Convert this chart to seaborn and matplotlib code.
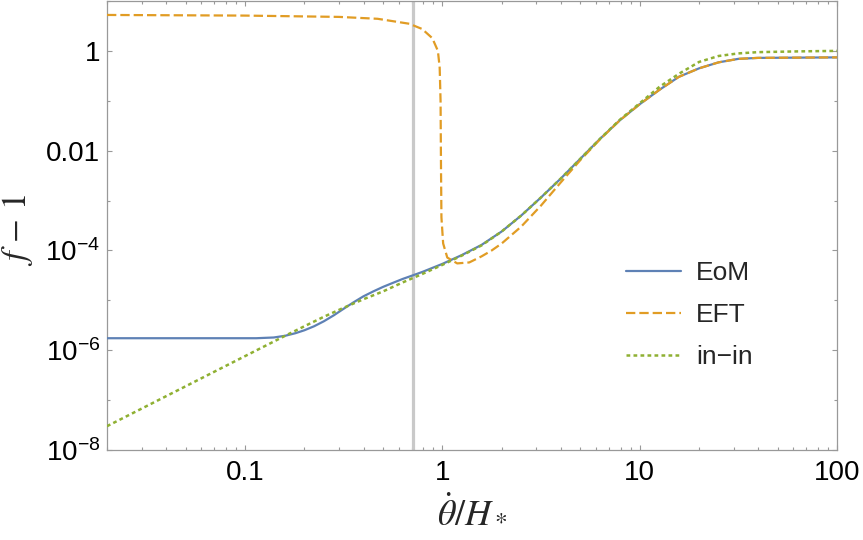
import numpy as np
import pandas as pd
import seaborn as sns
import matplotlib.pyplot as plt
from matplotlib.ticker import FixedLocator, FixedFormatter, LogLocator, NullFormatter

# values (x = theta_dot / H_*, y = f - 1)
eom_x = [0.02, 0.06, 0.114, 0.14, 0.16, 0.18, 0.2, 0.224, 0.251, 0.282, 0.316, 0.355,
         0.398, 0.447, 0.501, 0.562, 0.631, 0.708, 0.794, 0.891, 1.0, 1.26, 1.58, 2.0,
         2.51, 3.16, 3.98, 5.01, 6.31, 7.94, 10, 12.6, 15.8, 20, 25.1, 31.6, 39.8, 100]
eom_y = [1.74e-6, 1.74e-6, 1.74e-6, 1.80e-6, 1.95e-6, 2.19e-6, 2.51e-6, 3.02e-6,
         3.80e-6, 5.01e-6, 6.76e-6, 9.12e-6, 1.20e-5, 1.51e-5, 1.86e-5, 2.24e-5,
         2.69e-5, 3.16e-5, 3.72e-5, 4.47e-5, 5.37e-5, 8.13e-5, 1.29e-4, 2.40e-4,
         5.0e-4, 1.15e-3, 2.75e-3, 6.9e-3, 0.0174, 0.0407, 0.0851, 0.166, 0.302,
         0.447, 0.589, 0.692, 0.724, 0.741]

eft_x = [0.02, 0.1, 0.3, 0.47, 0.68, 0.79, 0.89, 0.95, 0.97, 0.98, 0.985, 0.99, 1.01,
         1.06, 1.19, 1.37, 1.58, 1.78, 2.0, 2.51, 3.16, 3.98, 5.01, 6.31, 7.94, 10,
         12.6, 15.8, 20, 25.1, 31.6, 39.8, 100]
eft_y = [5.25, 5.1, 4.8, 4.4, 3.5, 2.75, 1.8, 1.0, 0.46, 0.1, 4.6e-3, 4.6e-4, 1.38e-4,
         7.2e-5, 5.5e-5, 5.75e-5, 7.6e-5, 1.0e-4, 1.38e-4, 3.0e-4, 7.9e-4, 2.3e-3,
         6.5e-3, 0.0170, 0.0407, 0.0851, 0.166, 0.302, 0.447, 0.589, 0.692, 0.724,
         0.741]

inin_x = [0.02, 0.1, 0.16, 0.2, 0.251, 0.316, 0.398, 0.501, 0.631, 0.794, 1.0, 1.26,
          1.58, 2.0, 2.51, 3.16, 3.98, 5.01, 6.31, 7.94, 10, 12.6, 15.8, 20, 25.1,
          31.6, 39.8, 63, 100]
inin_y = [3.0e-8, 7.6e-7, 1.95e-6, 3.02e-6, 4.68e-6, 7.08e-6, 1.05e-5, 1.51e-5,
          2.29e-5, 3.39e-5, 5.13e-5, 7.94e-5, 1.26e-4, 2.40e-4, 5.0e-4, 1.15e-3,
          2.75e-3, 6.9e-3, 0.0174, 0.0417, 0.089, 0.19, 0.347, 0.60, 0.79, 0.89,
          0.944, 0.977, 1.0]

x_marker = 0.707

xticks = [0.1, 1, 10, 100]
xtick_labels = ['0.1', '1', '10', '100']
yticks = [1e-8, 1e-6, 1e-4, 1e-2, 1]
ytick_labels = [r'$\mathregular{10^{-8}}$', r'$\mathregular{10^{-6}}$',
                r'$\mathregular{10^{-4}}$', '0.01', '1']

sns.set_style('ticks')
plt.rcParams['font.family'] = ['Liberation Sans', 'DejaVu Sans']
plt.rcParams['mathtext.fontset'] = 'custom'
plt.rcParams['mathtext.rm'] = 'Liberation Sans'
plt.rcParams['mathtext.it'] = 'Liberation Sans:italic'

fig = plt.figure(figsize=(8.63, 5.40), dpi=100)
ax = fig.add_axes([107/863, 90/540, 730/863, 449/540])
ax.set_xscale('log')
ax.set_yscale('log')

ax.axvline(x_marker, color='#c9c9c9', lw=2.3, zorder=1)

sns.lineplot(x=eom_x, y=eom_y, ax=ax, color='#5e81b5', lw=1.6, label='EoM',
             sort=False, estimator=None, zorder=3)
sns.lineplot(x=eft_x, y=eft_y, ax=ax, color='#e19c24', lw=1.6, label='EFT',
             sort=False, estimator=None, zorder=4)
sns.lineplot(x=inin_x, y=inin_y, ax=ax, color='#8fb032', lw=1.8, label='in\u2212in',
             sort=False, estimator=None, zorder=5)
ax.lines[2].set_linestyle((0, (4.2, 1.8)))
ax.lines[3].set_linestyle((0, (1.5, 1.3)))

ax.set_xlim(0.02, 100)
ax.set_ylim(1e-8, 10)

ax.xaxis.set_major_locator(FixedLocator(xticks))
ax.xaxis.set_major_formatter(FixedFormatter(xtick_labels))
ax.xaxis.set_minor_locator(LogLocator(base=10, subs=np.arange(2, 10), numticks=30))
ax.xaxis.set_minor_formatter(NullFormatter())
ax.yaxis.set_major_locator(FixedLocator(yticks))
ax.yaxis.set_major_formatter(FixedFormatter(ytick_labels))
ax.yaxis.set_minor_locator(LogLocator(base=10, subs=(1.0,), numticks=30))
ax.yaxis.set_minor_formatter(NullFormatter())

ax.tick_params(which='both', direction='in', top=True, right=True, color='#999999',
               width=0.8, labelsize=20, labelcolor='black')
ax.tick_params(which='major', length=3.5)
ax.tick_params(which='minor', length=2)
ax.tick_params(axis='x', which='major', pad=7)
ax.tick_params(axis='y', which='major', pad=5)
for s in ax.spines.values():
    s.set_color('#999999')
    s.set_linewidth(0.9)

ax.set_xlabel(r'$\dot{\theta}/H_*$', fontsize=26, math_fontfamily='stix')
ax.set_ylabel(r'$f\,-\,1$', fontsize=25, math_fontfamily='stix')
ax.xaxis.set_label_coords(0.5, -0.098)
ax.yaxis.set_label_coords(-0.098, 0.49)

ax.legend(loc='center left', bbox_to_anchor=(0.711, 0.30), frameon=False, fontsize=19,
          handlelength=2.1, handletextpad=0.55, labelspacing=0.68, borderaxespad=0,
          borderpad=0)

fig.savefig('out.png', dpi=100)
